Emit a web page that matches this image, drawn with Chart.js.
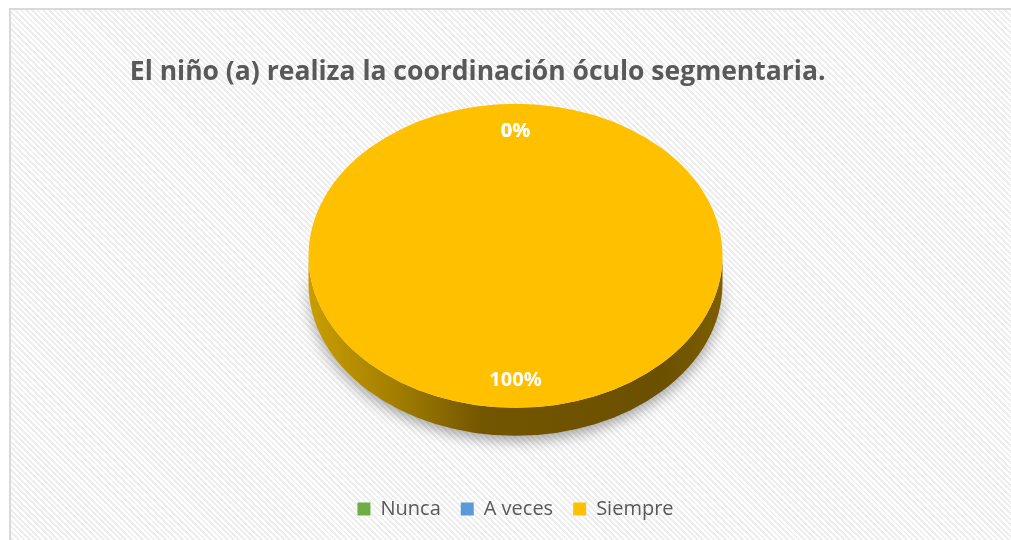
<!DOCTYPE html>
<html>
<head>
<meta charset="utf-8">
<script src="https://cdn.jsdelivr.net/npm/chart.js@4.4.1/dist/chart.umd.min.js"></script>
<style>
  html, body { margin: 0; padding: 0; background: #fff; overflow: hidden; }
  /* marco con el fondo rayado */
  #marco {
    position: absolute; left: 9px; top: 8px; width: 1010px; height: 600px;
    border: 2px solid #d9d9d9;
    background: repeating-linear-gradient(45deg, #ffffff 0px, #ffffff 2px, #eeeeee 2px, #eeeeee 4px);
  }
  #wrap { position: absolute; left: 0; top: 0; width: 1011px; height: 540px; }
</style>
</head>
<body>
<div id="marco"></div>
<div id="wrap"><canvas id="pieChart" width="1011" height="540"></canvas></div>
<script>
// datos
const categorias = ['Nunca', 'A veces', 'Siempre'];
const porcentajes = [0, 0, 100];
const colores = ['#70ad47', '#5b9bd5', '#ffc000'];
const titulo = 'El niño (a) realiza la coordinación óculo segmentaria.';

// aspecto 3D
const achatado = 152 / 207;   // alto / ancho de la elipse
const grosor = 28;            // espesor del lateral en px

const pie3d = {
    id: 'pie3d',
    beforeDatasetsDraw(chart) {
        const arc = chart.getDatasetMeta(0).data[0];
        const { x, y, outerRadius: r } = arc;
        const ctx = chart.ctx;
        const cyS = chart.chartArea.top + r * achatado + 8;
        chart.$cyS = cyS;

        ctx.save();
        ctx.translate(0, cyS);
        ctx.scale(1, achatado);
        ctx.translate(0, -y);

        // lateral del cilindro
        const d = grosor / achatado;
        const grad = ctx.createLinearGradient(x - r, 0, x + r, 0);
        grad.addColorStop(0, '#c99e00');
        grad.addColorStop(0.2, '#a58000');
        grad.addColorStop(0.42, '#735600');
        grad.addColorStop(0.85, '#6b5000');
        grad.addColorStop(1, '#7d5e00');
        ctx.save();
        ctx.shadowColor = 'rgba(0,0,0,0.35)';
        ctx.shadowBlur = 14;
        ctx.shadowOffsetY = 5;
        ctx.beginPath();
        ctx.arc(x, y, r, 0, Math.PI);
        ctx.lineTo(x - r, y + d);
        ctx.arc(x, y + d, r, Math.PI, 0, true);
        ctx.closePath();
        ctx.fillStyle = grad;
        ctx.fill();
        ctx.restore();
    },
    afterDatasetsDraw(chart) {
        const ctx = chart.ctx;
        ctx.restore();

        // etiquetas de porcentaje
        const meta = chart.getDatasetMeta(0);
        const total = porcentajes.reduce((a, b) => a + b, 0);
        ctx.save();
        ctx.fillStyle = '#ffffff';
        ctx.font = 'bold 20px "Open Sans"';
        ctx.textAlign = 'center';
        ctx.textBaseline = 'middle';
        meta.data.forEach((el, i) => {
            const mid = (el.startAngle + el.endAngle) / 2;
            const rr = el.outerRadius * 0.82;
            const px = el.x + Math.cos(mid) * rr;
            const py = chart.$cyS + Math.sin(mid) * rr * achatado;
            ctx.fillText(Math.round(porcentajes[i] / total * 100) + '%', px, py);
        });
        ctx.restore();
    }
};

const pieChart = new Chart(document.getElementById('pieChart').getContext('2d'), {
    type: 'pie',
    data: {
        labels: categorias,
        datasets: [{
            data: porcentajes,
            backgroundColor: colores,
            borderWidth: 0,
            radius: 207,
            clip: false
        }]
    },
    options: {
        responsive: false,
        animation: false,
        layout: { padding: { left: 30, right: 10, top: 0, bottom: 11 } },
        plugins: {
            title: {
                display: true,
                text: titulo + '\u00a0'.repeat(11),
                color: '#595959',
                font: { family: 'Open Sans', size: 26.5, weight: 'bold' },
                padding: { top: 57, bottom: 7 }
            },
            legend: {
                position: 'bottom',
                labels: {
                    color: '#595959',
                    font: { family: 'Open Sans', size: 20 },
                    boxWidth: 13,
                    boxHeight: 13,
                    padding: 20
                }
            },
            tooltip: { enabled: false }
        }
    },
    plugins: [pie3d]
});
</script>
</body>
</html>
